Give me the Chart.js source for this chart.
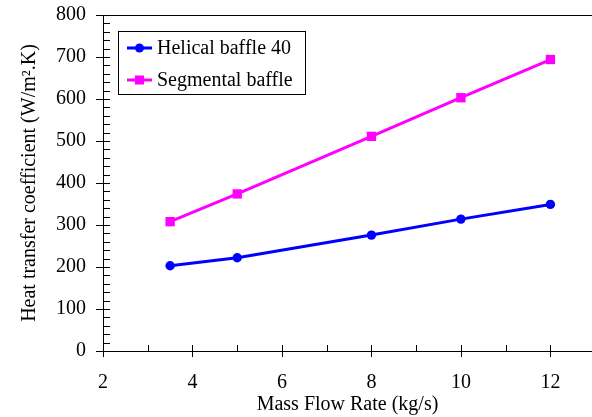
<!DOCTYPE html>
<html>
<head>
<meta charset="utf-8">
<script src="https://cdn.jsdelivr.net/npm/chart.js@4.4.0/dist/chart.umd.min.js"></script>
<style>
html,body{margin:0;padding:0;background:#fff;overflow:hidden;}
#wrap{width:592px;height:417px;position:relative;}
</style>
</head>
<body>
<div id="wrap"><canvas id="c" width="592" height="417"></canvas></div>
<script>
// ---- data ----
const massFlow = [3.5, 5, 8, 10, 12];
const helical = [203, 222, 276, 314, 349];
const segmental = [308, 374, 511, 603, 694];
const seriesLabels = ["Helical baffle 40", "Segmental baffle"];
const xTitle = "Mass Flow Rate (kg/s)";
const yTitle = "Heat transfer coefficient (W/m\u00B2.K)";
const xTickValues = [2, 4, 6, 8, 10, 12];
const xMinorValues = [3, 5, 7, 9, 11];
const yTickValues = [0, 100, 200, 300, 400, 500, 600, 700, 800];

const FONT = "'Liberation Serif', 'Times New Roman', serif";

const ticksPlugin = {
  id: 'ticksPlugin',
  afterDraw(chart) {
    const ctx = chart.ctx;
    const xs = chart.scales.x, ys = chart.scales.y;
    const a = chart.chartArea;
    ctx.save();
    ctx.strokeStyle = '#000';
    ctx.lineWidth = 1;
    ctx.beginPath();
    // top border
    ctx.moveTo(a.left - 7, Math.round(a.top) + 0.5);
    ctx.lineTo(chart.width, Math.round(a.top) + 0.5);
    // y major ticks
    yTickValues.forEach(v => {
      const py = Math.round(ys.getPixelForValue(v)) + 0.5;
      ctx.moveTo(a.left - 7, py); ctx.lineTo(a.left + 7, py);
    });
    // y minor ticks
    for (let i = 0; i < yTickValues.length - 1; i++) {
      const step = (yTickValues[i + 1] - yTickValues[i]) / 5;
      for (let k = 1; k < 5; k++) {
        const py = Math.round(ys.getPixelForValue(yTickValues[i] + k * step)) + 0.5;
        ctx.moveTo(a.left, py); ctx.lineTo(a.left + 7, py);
      }
    }
    // x major ticks
    xTickValues.forEach(v => {
      const px = Math.round(xs.getPixelForValue(v)) + 0.5;
      ctx.moveTo(px, a.bottom - 6); ctx.lineTo(px, a.bottom + 6);
    });
    xMinorValues.forEach(v => {
      const px = Math.round(xs.getPixelForValue(v)) + 0.5;
      ctx.moveTo(px, a.bottom - 6); ctx.lineTo(px, a.bottom);
    });
    ctx.stroke();

    // legend
    const lx = 118, ly = 31, lw = 187, lh = 63;
    ctx.fillStyle = '#fff';
    ctx.fillRect(lx, ly, lw, lh);
    ctx.strokeStyle = '#000';
    ctx.lineWidth = 1;
    ctx.strokeRect(lx + 0.5, ly + 0.5, lw, lh);
    chart.data.datasets.forEach((ds, i) => {
      const cy = ly + 17 + i * 32;
      ctx.strokeStyle = ds.borderColor;
      ctx.lineWidth = 3;
      ctx.beginPath();
      ctx.moveTo(lx + 9, cy); ctx.lineTo(lx + 34, cy);
      ctx.stroke();
      ctx.fillStyle = ds.backgroundColor;
      if (ds.pointStyle === 'rect') {
        ctx.fillRect(lx + 21.5 - 4.5, cy - 4.5, 9, 9);
      } else {
        ctx.beginPath(); ctx.arc(lx + 21.5, cy, 4.5, 0, Math.PI * 2); ctx.fill();
      }
      ctx.fillStyle = '#000';
      ctx.font = "20px " + FONT;
      ctx.textBaseline = 'middle';
      ctx.textAlign = 'left';
      ctx.fillText(ds.label, lx + 39, cy + 1);
    });
    ctx.restore();
  }
};

new Chart(document.getElementById('c'), {
  type: 'line',
  data: {
    datasets: [
      {
        label: seriesLabels[0],
        data: massFlow.map((x, i) => ({x: x, y: helical[i]})),
        borderColor: '#0000FF', backgroundColor: '#0000FF',
        borderWidth: 3, pointStyle: 'circle', pointRadius: 4.7,
        pointBorderWidth: 0, tension: 0
      },
      {
        label: seriesLabels[1],
        data: massFlow.map((x, i) => ({x: x, y: segmental[i]})),
        borderColor: '#FF00FF', backgroundColor: '#FF00FF',
        borderWidth: 3, pointStyle: 'rect', pointRadius: 6.6,
        pointBorderWidth: 0, tension: 0
      }
    ]
  },
  options: {
    responsive: false,
    animation: false,
    layout: {autoPadding: false, padding: {top: 15, right: 0, left: 0, bottom: 0}},
    plugins: {legend: {display: false}, tooltip: {enabled: false}},
    scales: {
      x: {
        type: 'linear', min: 2, max: 12.93,
        afterFit: s => { s.height = 66; s.paddingLeft = 0; s.paddingRight = 0; },
        afterBuildTicks: s => { s.ticks = xTickValues.map(v => ({value: v})); },
        grid: {display: false, drawTicks: false},
        border: {display: true, color: '#000', width: 1},
        ticks: {color: '#000', font: {family: FONT, size: 20}, padding: 20, maxRotation: 0},
        title: {display: true, text: xTitle, color: '#000', font: {family: FONT, size: 20}, padding: {top: -6, bottom: 0}}
      },
      y: {
        min: 0, max: 800,
        afterFit: s => { s.width = 103; s.paddingTop = 0; s.paddingBottom = 0; },
        afterBuildTicks: s => { s.ticks = yTickValues.map(v => ({value: v})); },
        grid: {display: false, drawTicks: false},
        border: {display: true, color: '#000', width: 1},
        ticks: {color: '#000', font: {family: FONT, size: 20}, padding: 17},
        title: {display: true, text: yTitle, color: '#000', font: {family: FONT, size: 20}, padding: {top: 18, bottom: 8}}
      }
    }
  },
  plugins: [ticksPlugin]
});
</script>
</body>
</html>
